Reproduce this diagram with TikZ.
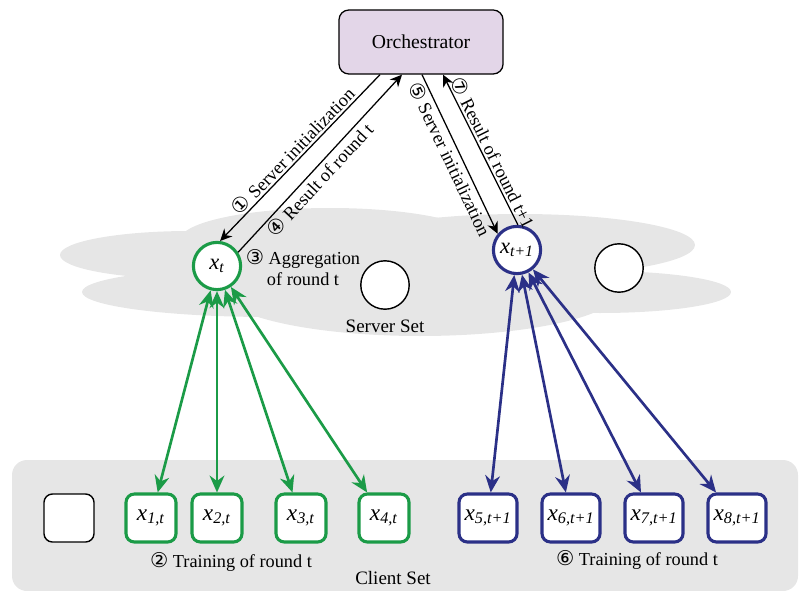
\documentclass[tikz,border=0pt]{standalone}
\usepackage{fontspec}
\setmainfont{Liberation Serif}
\newfontfamily\circfont{DejaVu Sans}
\usetikzlibrary{arrows.meta,positioning,calc}
\definecolor{FLGreen}{HTML}{1B9B47}
\definecolor{FLBlue}{HTML}{2B3087}
\definecolor{FLLilac}{HTML}{E3D6E8}
\definecolor{FLGrey}{HTML}{E6E6E6}
\newcommand{\cnum}[1]{{\circfont\fontsize{14.5}{14.5}\selectfont #1}}
\newcommand{\xv}[1]{\textit{x}\textsubscript{\textit{#1}}}

\begin{document}
\begin{tikzpicture}[
      x=0.025cm,y=-0.025cm,
      orchbox/.style={draw,line width=0.9pt,fill=FLLilac,rounded corners=7pt,
        minimum width=4.1cm,minimum height=1.6cm,font=\fontsize{14}{16}\selectfont},
      server/.style={circle,draw,fill=white,minimum size=1.18cm,inner sep=0pt,
        font=\fontsize{16}{18}\selectfont},
      client/.style={draw,fill=white,rounded corners=6pt,minimum height=1.2cm,
        minimum width=1.25cm,inner sep=1pt,font=\fontsize{16.5}{18}\selectfont},
      lbl/.style={font=\fontsize{13}{15}\selectfont},
      setlbl/.style={font=\fontsize{13.5}{15}\selectfont},
      ctrl/.style={-{Stealth[length=8.5pt,width=8pt]},line width=0.9pt},
      greenlink/.style={{Stealth[length=12pt,width=10.5pt]}-{Stealth[length=12pt,width=10.5pt]},
        line width=1.9pt,FLGreen},
      bluelink/.style={{Stealth[length=12pt,width=10.5pt]}-{Stealth[length=12pt,width=10.5pt]},
        line width=1.9pt,FLBlue}
    ]
      \useasboundingbox (0,0) rectangle (799,590);
      % server set cloud
      \fill[FLGrey] (330,240) ellipse [x radius=150,y radius=32];
      \fill[FLGrey] (520,245) ellipse [x radius=175,y radius=31];
      \fill[FLGrey] (190,255) ellipse [x radius=130,y radius=24];
      \fill[FLGrey] (270,292) ellipse [x radius=188,y radius=25];
      \fill[FLGrey] (600,292) ellipse [x radius=131,y radius=21];
      \fill[FLGrey] (420,290) ellipse [x radius=200,y radius=46];
      % client set
      \fill[FLGrey,rounded corners=0.375cm] (12,460) rectangle (798,591);

      \node[orchbox] (orch) at (421,42) {Orchestrator};

      \node[server,draw=FLGreen,line width=2.2pt] (xt) at (217,266) {\xv{t}};
      \node[server,line width=1pt,minimum size=1.21cm] (s2) at (385,285) {};
      \node[server,draw=FLBlue,line width=2.2pt] (xnext) at (517,250) {\xv{t+1}};
      \node[server,line width=1pt,minimum size=1.21cm] (s4) at (619,268) {};
      \node[lbl,align=center] (agg) at (303,268) {\cnum{③} Aggregation\\of round t};
      \node[setlbl] (serverset) at (385,326) {Server Set};

      \node[client,line width=1pt] (c0) at (69,518) {};
      \node[client,draw=FLGreen,line width=2.2pt] (c1) at (151,518) {\xv{1,t}};
      \node[client,draw=FLGreen,line width=2.2pt] (c2) at (217,518) {\xv{2,t}};
      \node[client,draw=FLGreen,line width=2.2pt] (c3) at (301,518) {\xv{3,t}};
      \node[client,draw=FLGreen,line width=2.2pt] (c4) at (384,518) {\xv{4,t}};
      \node[client,draw=FLBlue,line width=2.2pt,minimum width=1.45cm] (c5) at (488,518) {\xv{5,t+1}};
      \node[client,draw=FLBlue,line width=2.2pt,minimum width=1.45cm] (c6) at (571,518) {\xv{6,t+1}};
      \node[client,draw=FLBlue,line width=2.2pt,minimum width=1.45cm] (c7) at (654,518) {\xv{7,t+1}};
      \node[client,draw=FLBlue,line width=2.2pt,minimum width=1.45cm] (c8) at (737,518) {\xv{8,t+1}};
      \node[lbl] (traint) at (231,562) {\cnum{②} Training of round t};
      \node[lbl] (trainnext) at (637,560) {\cnum{⑥} Training of round t};
      \node[setlbl] (clientset) at (393,578) {Client Set};

      % orchestrator <-> servers
      \draw[ctrl] ($(orch.south)+(-41,0)$) -- (xt.83)
        node[lbl,midway,sloped,above,inner sep=1.5pt] {\cnum{①} Server initialization};
      \draw[ctrl] (xt.33) -- ($(orch.south)+(-19,0)$)
        node[lbl,pos=0.45,sloped,below,inner sep=1.5pt] {\cnum{④} Result of round t};
      \draw[ctrl] ($(orch.south)+(1,0)$) -- (xnext.140)
        node[lbl,midway,sloped,below,inner sep=1.5pt] {\cnum{⑤} Server initialization};
      \draw[ctrl] (xnext.88) -- ($(orch.south)+(22,0)$)
        node[lbl,pos=0.45,sloped,above,inner sep=1.5pt] {\cnum{⑦} Result of round t+1};

      % servers <-> clients
      \draw[greenlink] (xt) -- (c1);
      \draw[greenlink] (xt) -- (c2);
      \draw[greenlink] (xt) -- (c3);
      \draw[greenlink] (xt) -- (c4);
      \draw[bluelink] (xnext) -- (c5);
      \draw[bluelink] (xnext) -- (c6);
      \draw[bluelink] (xnext) -- (c7);
      \draw[bluelink] (xnext) -- (c8);
    \end{tikzpicture}
\end{document}
